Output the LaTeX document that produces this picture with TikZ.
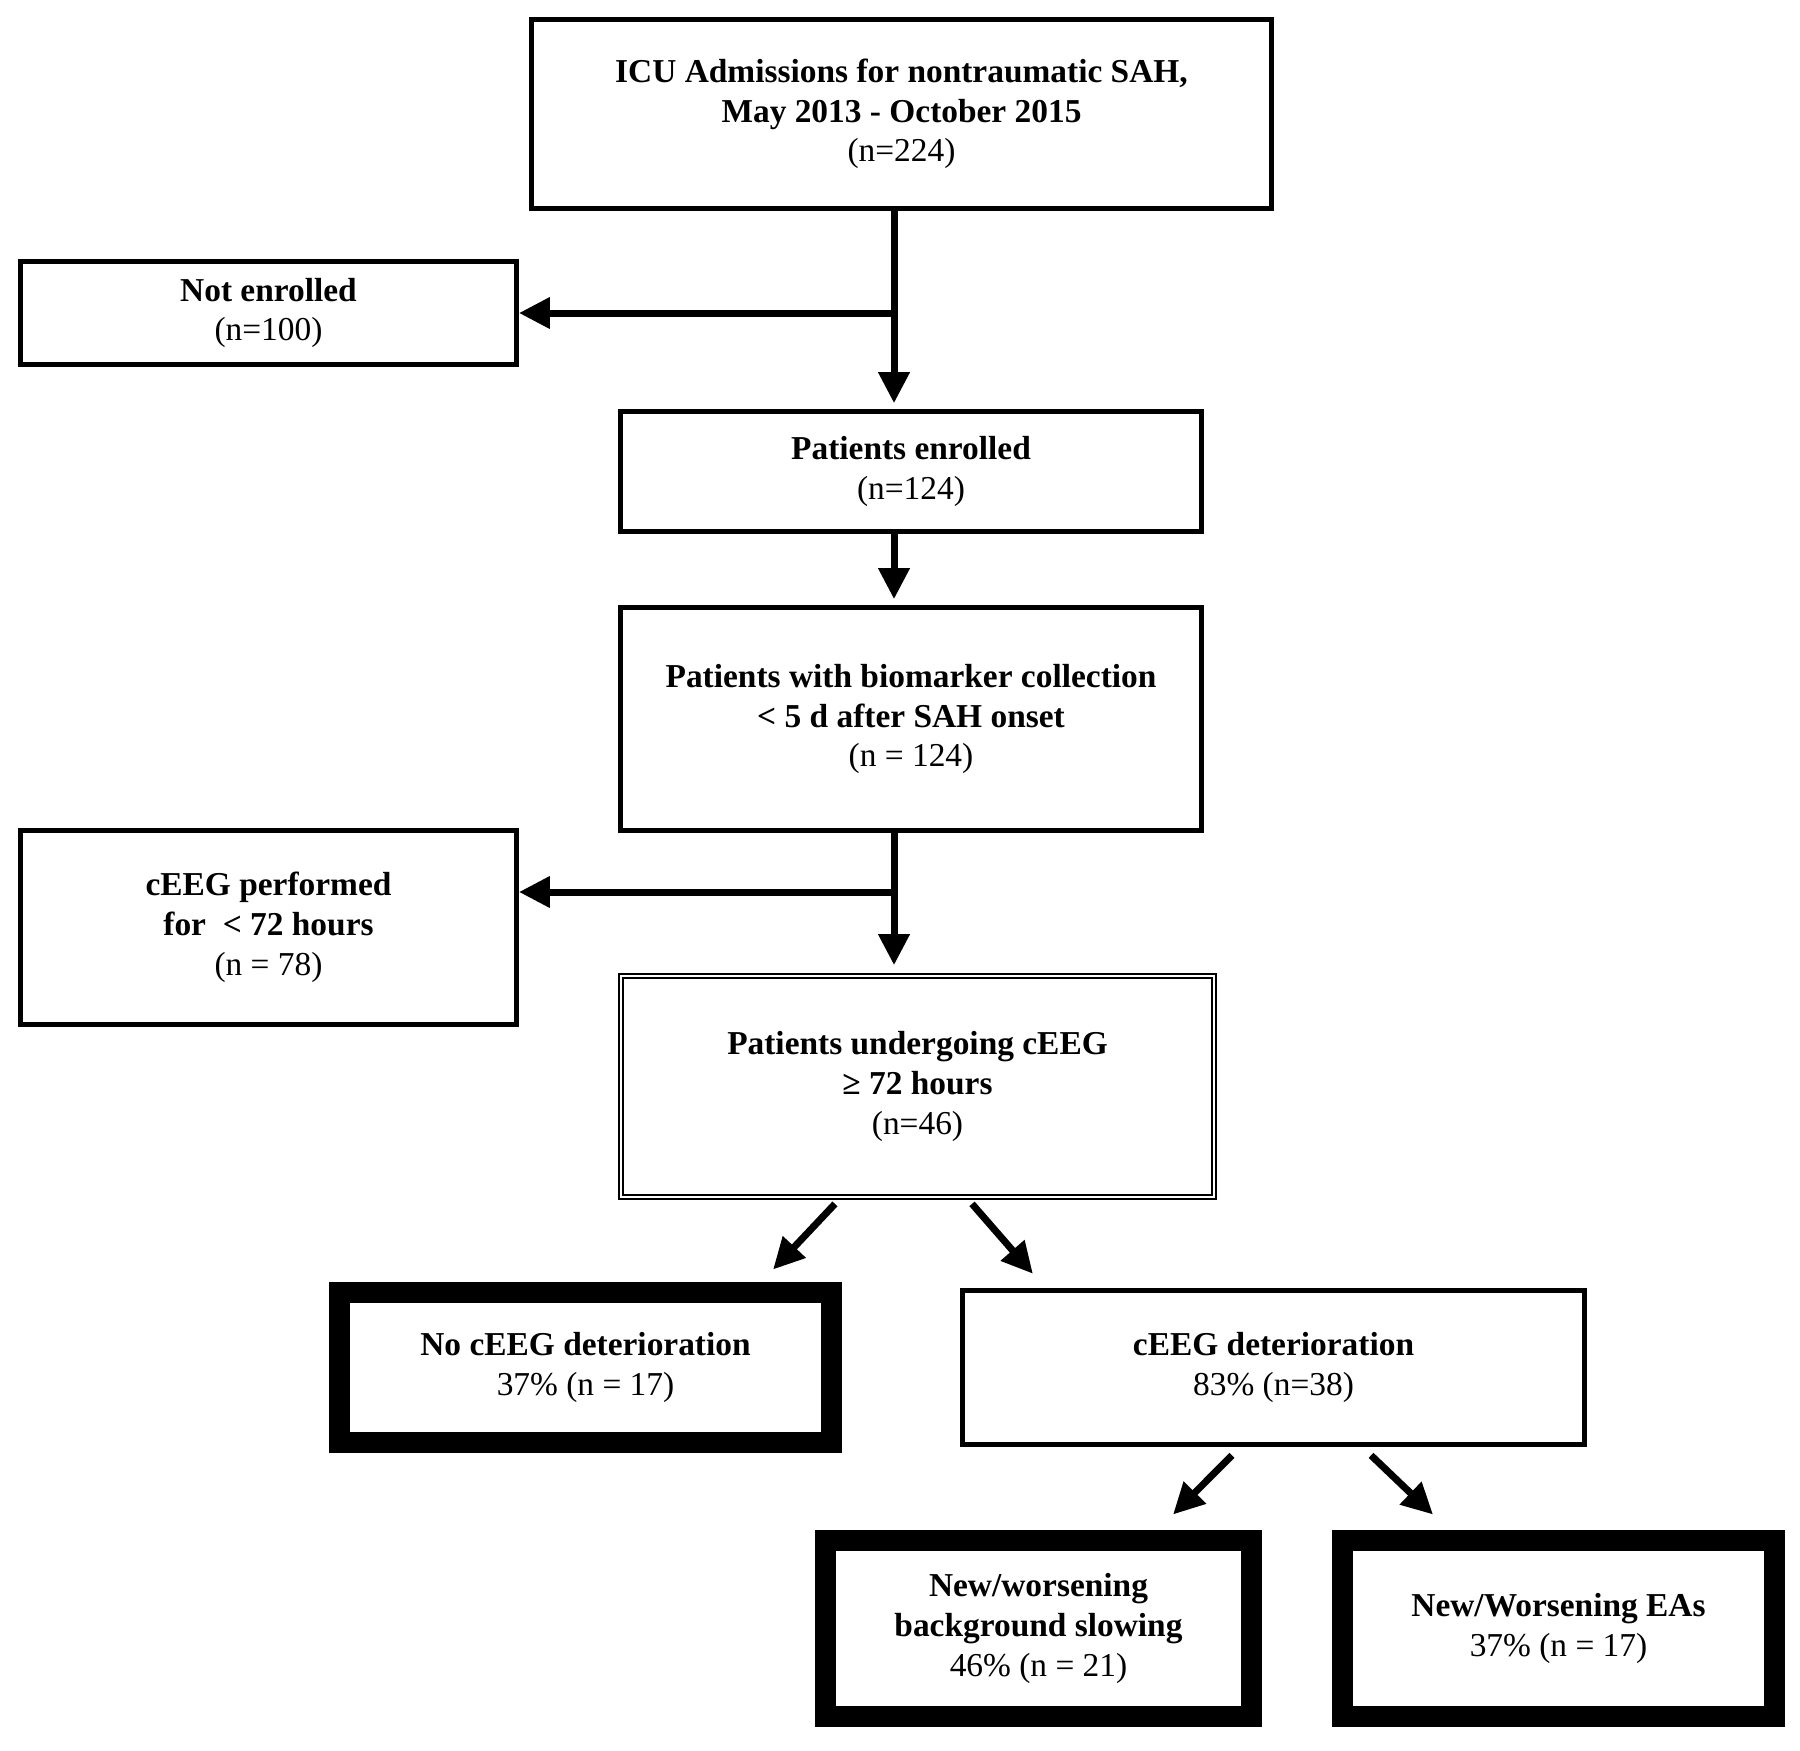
\documentclass[tikz,border=0pt]{standalone}
\usepackage{fontspec}
\setmainfont{Liberation Serif}
\usetikzlibrary{arrows.meta}

\begin{document}
\begin{tikzpicture}[x=0.01cm, y=-0.01cm,
  box/.style={draw, line width=1.3pt, align=center, inner sep=0pt, font=\fontsize{9.5}{11.3}\selectfont},
  dbox/.style={box, line width=0.45pt, double, double distance=0.7pt},
  heavy/.style={box, line width=0.21cm},
  arr/.style={line width=0.07cm, -{Triangle[length=0.31cm,width=0.3cm]}}]
  % Fix the page size
  \useasboundingbox (0,0) rectangle (1800,1750);

  % Boxes of the flow chart
  \node[box, minimum width=7.40cm, minimum height=1.89cm] (adm) at (901.5,114)
    {\textbf{ICU Admissions for nontraumatic SAH,}\\\textbf{May 2013 - October 2015}\\(n=224)};
  \node[box, minimum width=4.96cm, minimum height=1.03cm] (notenr) at (268.5,313)
    {\textbf{Not enrolled}\\(n=100)};
  \node[box, minimum width=5.81cm, minimum height=1.20cm] (enr) at (911,471.5)
    {\textbf{Patients enrolled}\\(n=124)};
  \node[box, minimum width=5.81cm, minimum height=2.23cm] (bio) at (911,719)
    {\textbf{Patients with biomarker collection}\\\textbf{< 5 d after SAH onset}\\(n = 124)};
  \node[box, minimum width=4.96cm, minimum height=1.94cm] (short) at (268.5,927.5)
    {\textbf{cEEG performed}\\\textbf{for \ < 72 hours}\\(n = 78)};
  \node[dbox, minimum width=5.93cm, minimum height=2.21cm] (und) at (917.5,1086.5)
    {\textbf{Patients undergoing cEEG}\\\textbf{≥ 72 hours}\\(n=46)};
  \node[heavy, minimum width=4.92cm, minimum height=1.50cm] (nodet) at (585.5,1367.5)
    {\textbf{No cEEG deterioration}\\37\% (n = 17)};
  \node[box, minimum width=6.22cm, minimum height=1.54cm] (det) at (1273.5,1367.5)
    {\textbf{cEEG deterioration}\\83\% (n=38)};
  \node[heavy, minimum width=4.26cm, minimum height=1.76cm] (bg) at (1038.5,1628.5)
    {\textbf{New/worsening}\\\textbf{background slowing}\\46\% (n = 21)};
  \node[heavy, minimum width=4.32cm, minimum height=1.76cm] (eas) at (1558.5,1628.5)
    {\textbf{New/Worsening EAs}\\37\% (n = 17)};

  % Main line with the two side branches
  \coordinate (spine) at (894,0);
  \draw[arr] (adm.south -| spine) -- ([yshift=0.06cm]enr.north -| spine);
  \draw[arr] (notenr.east -| spine) -- (notenr.east);
  \draw[arr] (enr.south -| spine) -- ([yshift=0.06cm]bio.north -| spine);
  \draw[arr] (bio.south -| spine) -- ([yshift=0.1cm]und.north -| spine);
  \coordinate (b2) at ([yshift=0.355cm]short.east);
  \draw[arr] (b2 -| spine) -- (b2);

  % Split into outcomes
  \draw[arr] ([xshift=-0.825cm,yshift=-0.06cm]und.south) -- ([xshift=1.875cm,yshift=0.125cm]nodet.north);
  \draw[arr] ([xshift=0.545cm,yshift=-0.06cm]und.south) -- ([xshift=-2.405cm,yshift=0.145cm]det.north);
  \draw[arr] ([xshift=-0.415cm,yshift=-0.085cm]det.south) -- ([xshift=1.345cm,yshift=0.155cm]bg.north);
  \draw[arr] ([xshift=0.975cm,yshift=-0.085cm]det.south) -- ([xshift=-1.255cm,yshift=0.155cm]eas.north);
\end{tikzpicture}
\end{document}
